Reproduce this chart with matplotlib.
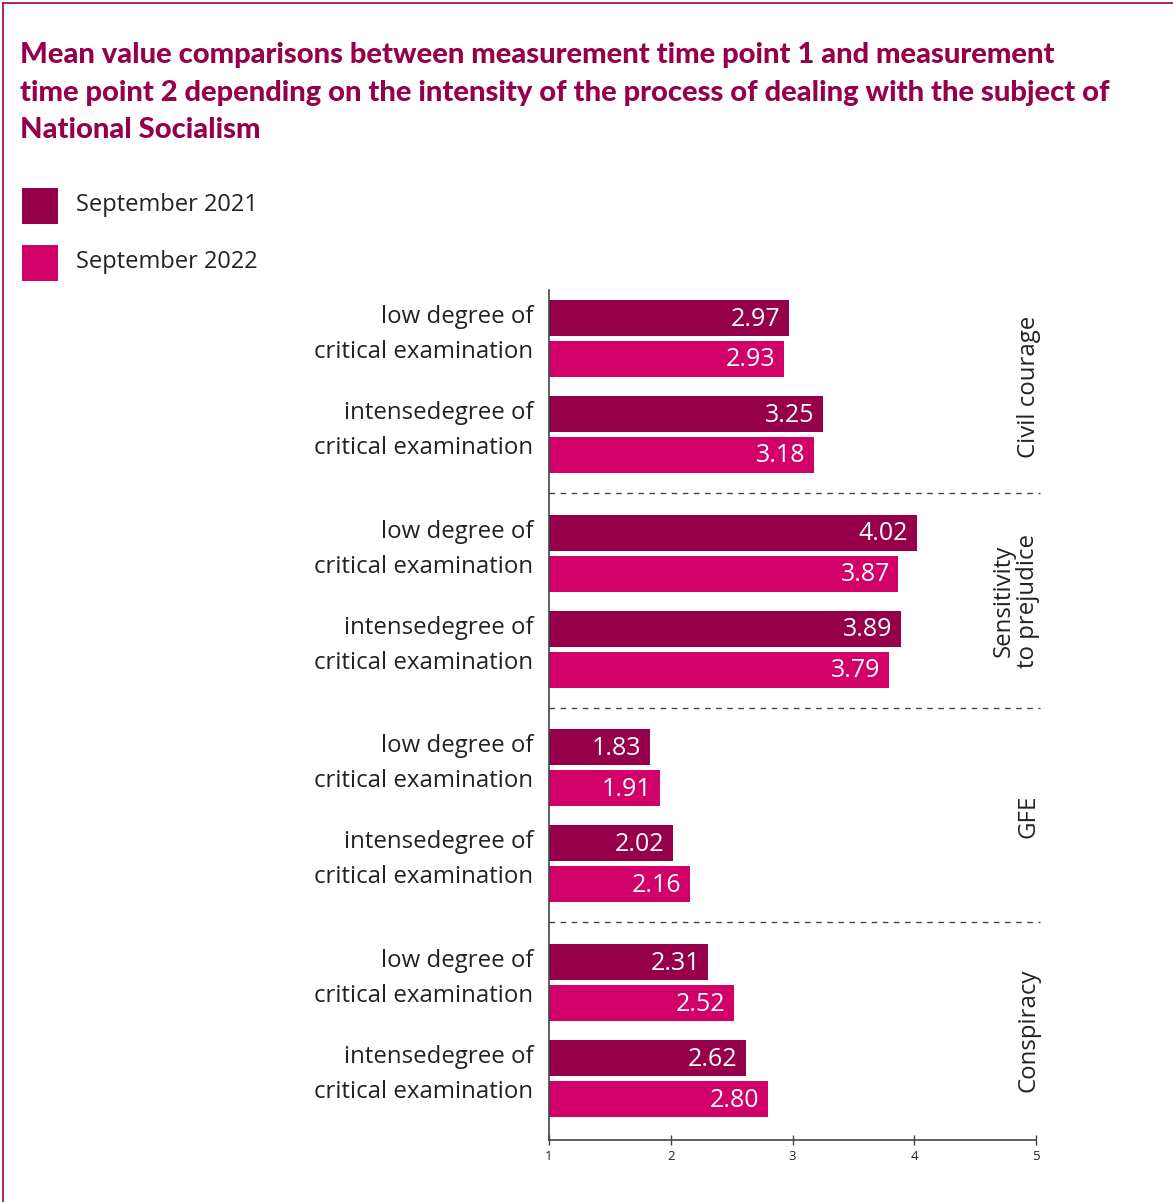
import matplotlib
matplotlib.use("Agg")
import matplotlib.pyplot as plt
from matplotlib.patches import Rectangle
from matplotlib.lines import Line2D

groups = ["Civil courage", "Sensitivity\nto prejudice", "GFE", "Conspiracy"]
categories = ["low degree of\ncritical examination", "intensedegree of\ncritical examination"]
series = ["September 2021", "September 2022"]
sep2021 = [[2.97, 3.25], [4.02, 3.89], [1.83, 2.02], [2.31, 2.62]]
sep2022 = [[2.93, 3.18], [3.87, 3.79], [1.91, 2.16], [2.52, 2.80]]
xticks = [1, 2, 3, 4, 5]

DARK = "#96004B"
BRIGHT = "#D20069"
TXT = "#222222"
FONT = "Open Sans"

W, H = 1173, 1202
fig = plt.figure(figsize=(W / 100, H / 100), dpi=100)

def fx(px):
    return px / W

def fy(py):
    return 1 - py / H

# border
fig.add_artist(Line2D([fx(3), fx(W)], [fy(3), fy(3)], color=DARK, lw=1.2))
fig.add_artist(Line2D([fx(3), fx(3)], [fy(3), fy(H)], color=DARK, lw=1.2))

# title
title_lines = ["Mean value comparisons between measurement time point 1 and measurement",
               "time point 2 depending on the intensity of the process of dealing with the subject of",
               "National Socialism"]
for i, line in enumerate(title_lines):
    fig.text(fx(20), fy(53 + i * 37), line, ha="left", va="center_baseline", fontsize=21,
             fontweight=900, family="Lato", color=DARK)

# legend
for i, (name, col) in enumerate(zip(series, [DARK, BRIGHT])):
    top = 188 + i * 57
    fig.add_artist(Rectangle((fx(22), fy(top + 36)), fx(36), 36 / H, color=col, lw=0))
    fig.text(fx(76), fy(top + 17), name, ha="left", va="center", fontsize=17,
             family=FONT, color=TXT)

# axes
ax = fig.add_axes([fx(549), fy(1140), fx(1036 - 549), (1140 - 290) / H])
ax.set_xlim(1, 5)
ax.set_ylim(1140, 290)

bar_h = 36
group_step = 214.7
pair_step = 96
series_step = 41
base = 300

for g in range(len(groups)):
    for p in range(len(categories)):
        for s, (vals, col) in enumerate([(sep2021, DARK), (sep2022, BRIGHT)]):
            v = vals[g][p]
            yc = base + g * group_step + p * pair_step + s * series_step + bar_h / 2
            ax.barh(yc, v - 1, left=1, height=bar_h, color=col, lw=0)
            ax.text(v - 0.07, yc + 1, f"{v:.2f}", ha="right", va="center", color="white",
                    fontsize=18, family=FONT)
        ypair = base + g * group_step + p * pair_step + (series_step + bar_h) / 2
        ax.text(0.87, ypair - 4, categories[p], ha="right", va="center", fontsize=17.3,
                family=FONT, color=TXT, linespacing=1.62)
    gc = base + g * group_step + (pair_step + series_step + bar_h) / 2
    nlines = groups[g].count("\n") + 1
    gx = 4.94 - (nlines - 1) * 0.105
    ax.text(gx, gc, groups[g], ha="center", va="center", rotation=90, fontsize=17.3,
            family=FONT, color=TXT, linespacing=1.0)
    if g < len(groups) - 1:
        yd = base + g * group_step + pair_step + series_step + bar_h + 20
        ax.plot([1, 5.03], [yd, yd], color="#444444", lw=1.0, ls=(0, (4, 4)), clip_on=False)

for sp in ["top", "right"]:
    ax.spines[sp].set_visible(False)
ax.spines["left"].set_color("#444444")
ax.spines["bottom"].set_color("#444444")
ax.spines["left"].set_linewidth(1.2)
ax.spines["bottom"].set_linewidth(1.2)
ax.set_yticks([])
ax.set_xticks(xticks)
ax.set_xticklabels([str(t) for t in xticks], fontsize=9.5, family=FONT, color=TXT)
ax.tick_params(axis="x", direction="inout", length=7, width=1, color="#444444", pad=4)

fig.savefig("out.png", dpi=100)
